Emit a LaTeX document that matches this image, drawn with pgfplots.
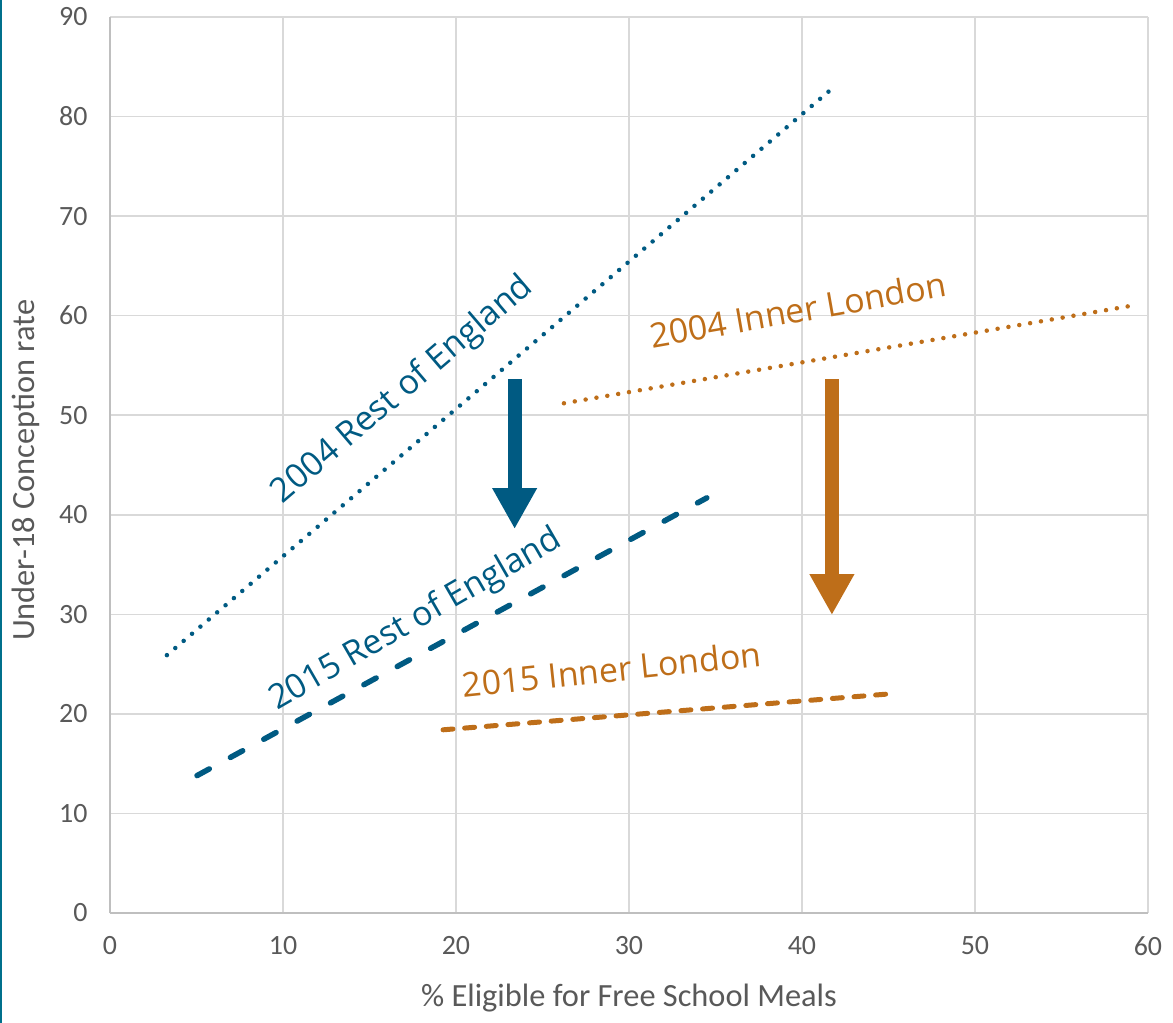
\documentclass[border=0pt]{standalone}
\usepackage{pgfplots}
\pgfplotsset{compat=1.18}
\usetikzlibrary{arrows.meta}
\usepackage{fontspec}
\setmainfont{Carlito}
\newfontfamily\annfont{Open Sans}
\definecolor{cblue}{RGB}{0,90,130}
\definecolor{corange}{RGB}{190,110,25}
\definecolor{tickgray}{RGB}{89,89,89}
\definecolor{gridgray}{RGB}{217,217,217}
\definecolor{axgray}{RGB}{191,191,191}
\definecolor{bordert}{RGB}{0,112,140}
\begin{document}
\begin{tikzpicture}
\path[use as bounding box] (-110bp,-110bp) rectangle (1063bp,913bp);
\draw[bordert, line width=2.5bp] (-108.75bp,-110bp) -- (-108.75bp,913bp);
\begin{axis}[
 at={(0,0)}, anchor=south west,
 scale only axis, width=1038bp, height=896bp,
 xmin=0, xmax=60, ymin=0, ymax=90,
 xtick={0,10,...,60}, ytick={0,10,...,90},
 axis x line*=bottom, axis y line*=left,
 axis line style={axgray, line width=1.5bp},
 grid=major, grid style={gridgray, line width=1.5bp},
 major tick length=0pt,
 tick style={draw=none},
 ticklabel style={font=\fontsize{28}{32}\selectfont, text=tickgray},
 /pgf/number format/assume math mode=true,
 xticklabel style={yshift=-20bp},
 yticklabel style={xshift=-19bp},
 xlabel={\% Eligible for Free School Meals},
 ylabel={Under-18 Conception rate},
 label style={font=\fontsize{32.5}{36}\selectfont, text=tickgray},
 xlabel style={at={(axis description cs:0.5,-0.0949)}, anchor=center},
 ylabel style={at={(axis description cs:-0.081,0.494)}, anchor=center},
 clip=false,
]
% 2004 Rest of England (dotted)
\addplot[cblue, line width=4.5bp, line cap=round, dash pattern=on 0bp off 11bp] coordinates {(3.29,25.9) (41.6,82.6)};
% 2015 Rest of England (dashed)
\addplot[cblue, line width=5.5bp, line cap=round, dash pattern=on 14bp off 24bp] coordinates {(5.03,13.8) (34.5,41.7)};
% 2004 Inner London (dotted)
\addplot[corange, line width=4.5bp, line cap=round, dash pattern=on 0bp off 11bp] coordinates {(26.24,51.2) (59.4,61.1)};
% 2015 Inner London (dashed)
\addplot[corange, line width=5bp, line cap=round, dash pattern=on 10bp off 11.7bp] coordinates {(19.25,18.4) (45.0,22.0)};
% arrows
\addplot[cblue, line width=14bp, -{Triangle[length=41bp,width=42bp]}] coordinates {(23.39,53.6) (23.39,38.57)};
\addplot[corange, line width=14bp, -{Triangle[length=41bp,width=42bp]}] coordinates {(41.73,53.6) (41.73,29.93)};
% labels
\node[text=cblue, rotate=40.5, font=\annfont\fontsize{34}{40}\selectfont] at (axis cs:16.94,52.5) {2004 Rest of England};
\node[text=cblue, rotate=30, font=\annfont\fontsize{34}{40}\selectfont] at (axis cs:17.69,29.4) {2015 Rest of England};
\node[text=corange, rotate=10, font=\annfont\fontsize{34}{40}\selectfont] at (axis cs:39.77,60.6) {2004 Inner London};
\node[text=corange, rotate=6, font=\annfont\fontsize{34}{40}\selectfont] at (axis cs:29.0,24.5) {2015 Inner London};
\end{axis}
\end{tikzpicture}
\end{document}
